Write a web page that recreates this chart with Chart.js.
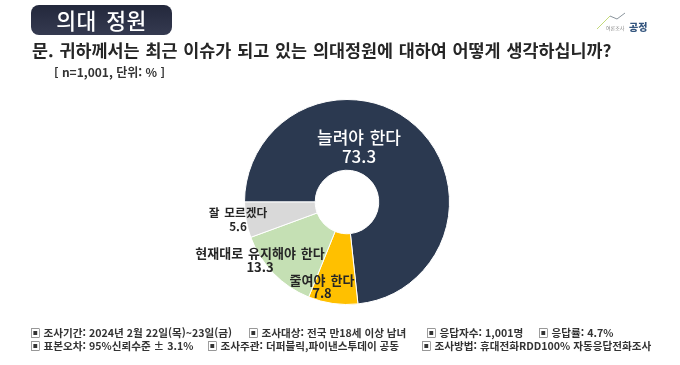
<!DOCTYPE html>
<html lang="ko">
<head>
<meta charset="utf-8">
<script src="https://cdn.jsdelivr.net/npm/chart.js@4"></script>
<style>
  html, body { margin: 0; padding: 0; background: #fff; }
  #wrap { position: relative; width: 680px; height: 365px; overflow: hidden; font-family: "Noto Sans CJK KR", sans-serif; color: #262626; filter: blur(0.45px); }
  #wrap div, #wrap span { position: absolute; white-space: nowrap; }
  canvas { position: absolute; left: 0; top: 0; }
  .badge { left: 31px; top: 5px; width: 141px; height: 30px; border-radius: 8px; background: linear-gradient(#23283c, #353a50); color: #fff; font-size: 21.5px; font-weight: 500; line-height: 30px; text-align: center; letter-spacing: 0.5px; word-spacing: 3px; }
  .question { left: 32px; top: 39px; font-size: 17.4px; font-weight: 700; line-height: 22px; word-spacing: 1px; }
  .unit { left: 54px; top: 65px; font-size: 12px; font-weight: 700; line-height: 14px; color: #333; }
  .foot { font-size: 10.6px; font-weight: 700; line-height: 13px; color: #333; }
</style>
</head>
<body>
<div id="wrap">
  <canvas id="myChart" width="680" height="365"></canvas>
  <div class="badge">의대 정원</div>
  <div class="question">문. 귀하께서는 최근 이슈가 되고 있는 의대정원에 대하여 어떻게 생각하십니까?</div>
  <div class="unit">[ n=1,001, 단위: % ]</div>
  <svg style="position:absolute;left:595px;top:10px" width="34" height="22">
    <polyline points="2,19 15,6" fill="none" stroke="#c3d97a" stroke-width="1"/>
    <polyline points="15,6 22,9 30,3" fill="none" stroke="#8a949c" stroke-width="1"/>
  </svg>
  <span style="left:606px;top:24px;font-size:5px;line-height:7px;color:#888">여론조사</span>
  <span style="left:629px;top:20px;font-size:10px;font-weight:900;line-height:14px;color:#34557e">공정</span>
  <span class="foot" style="left:30px;top:326px">▣ 조사기간: 2024년 2월 22일(목)~23일(금)</span>
  <span class="foot" style="left:248px;top:326px">▣ 조사대상: 전국 만18세 이상 남녀</span>
  <span class="foot" style="left:426px;top:326px">▣ 응답자수: 1,001명</span>
  <span class="foot" style="left:538px;top:326px">▣ 응답률: 4.7%</span>
  <span class="foot" style="left:30px;top:339px">▣ 표본오차: 95%신뢰수준 ± 3.1%</span>
  <span class="foot" style="left:207px;top:339px">▣ 조사주관: 더퍼블릭,파이낸스투데이 공동</span>
  <span class="foot" style="left:421px;top:339px">▣ 조사방법: 휴대전화RDD100% 자동응답전화조사</span>
</div>
<script>
const categories = ['늘려야 한다', '줄여야 한다', '현재대로 유지해야 한다', '잘 모르겠다']
const values = [73.3, 7.8, 13.3, 5.6]
const colors = ['#2b3950', '#ffc000', '#c5e0b4', '#d9d9d9']

// where each label sits, relative to the donut centre
const labelSpots = [
    { dx: 12, dy: -64, gap: 19, size: 17, color: '#fff', weight: 500 },
    { dx: -25, dy: 78, gap: 13, size: 13, color: '#262626', weight: 700 },
    { dx: -87, dy: 51, gap: 14, size: 13, color: '#262626', weight: 700 },
    { dx: -109, dy: 11, gap: 14, size: 11.7, color: '#262626', weight: 700 },
]

const sliceLabels = {
    id: 'sliceLabels',
    afterDatasetsDraw(chart) {
        const ctx = chart.ctx
        const arc = chart.getDatasetMeta(0).data[0]
        ctx.save()
        ctx.textAlign = 'center'
        ctx.textBaseline = 'middle'
        categories.forEach((name, i) => {
            const spot = labelSpots[i]
            ctx.fillStyle = spot.color
            ctx.font = spot.weight + ' ' + spot.size + 'px "Noto Sans CJK KR"'
            ctx.wordSpacing = '2px'
            ctx.fillText(name, arc.x + spot.dx, arc.y + spot.dy)
            ctx.fillText(values[i].toFixed(1), arc.x + spot.dx, arc.y + spot.dy + spot.gap)
        })
        ctx.restore()
    },
}

new Chart(document.getElementById('myChart'), {
    type: 'doughnut',
    data: {
        labels: categories,
        datasets: [{
            data: values,
            backgroundColor: colors,
            borderColor: '#fff',
            borderWidth: 1,
        }],
    },
    options: {
        responsive: false,
        animation: false,
        rotation: 270,
        cutout: '31%',
        layout: { padding: { left: 244, right: 230, top: 99, bottom: 60 } },
        plugins: { legend: { display: false }, tooltip: { enabled: false } },
    },
    plugins: [sliceLabels],
})
</script>
</body>
</html>
